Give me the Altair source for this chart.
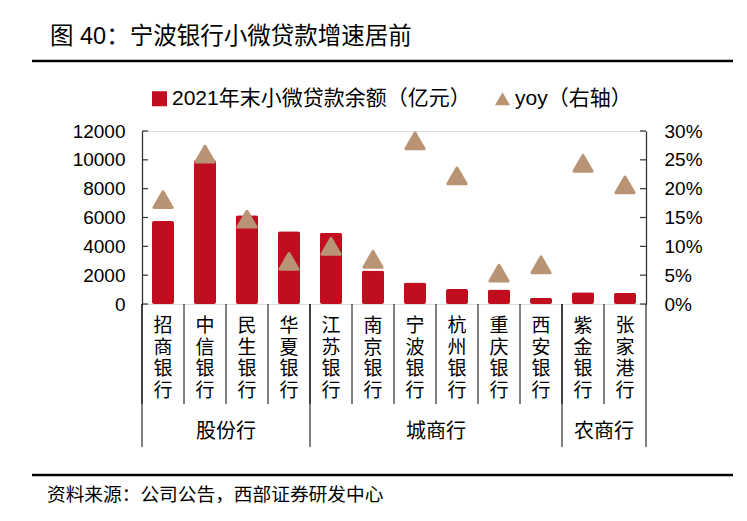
import altair as alt
import pandas as pd

# ---- data ----
banks = ["招商银行", "中信银行", "民生银行", "华夏银行", "江苏银行", "南京银行",
         "宁波银行", "杭州银行", "重庆银行", "西安银行", "紫金银行", "张家港行"]
loans = [5750, 9980, 6160, 5050, 4940, 2320, 1500, 1040, 1000, 420, 810, 770]
yoy = [0.181, 0.260, 0.147, 0.074, 0.100, 0.0775, 0.283, 0.222, 0.0535, 0.068, 0.244, 0.2065]
left_ticks = [0, 2000, 4000, 6000, 8000, 10000, 12000]
right_ticks = [0, 0.05, 0.10, 0.15, 0.20, 0.25, 0.30]
group_names = ["股份行", "城商行", "农商行"]
group_first = ["招商银行", "江苏银行", "紫金银行"]
group_center_at = ["民生银行", "杭州银行", "张家港行"]  # band start at group centre
last_bank = ["张家港行"]
series_names = ["2021年末小微贷款余额（亿元）", "yoy（右轴）"]
series_colors = ["#C00E1E", "#B89474"]
series_shapes = ["square", "triangle-up"]
title_text = ["图 40：宁波银行小微贷款增速居前"]
source_text = ["资料来源：公司公告，西部证券研发中心"]

CJK = "Noto Sans CJK SC"
MIX = "'Liberation Sans', 'Noto Sans CJK SC'"
W, H = 504, 173
AX = "#333333"

df = pd.DataFrame({"bank": banks, "loan": loans, "yoy": yoy})
df["s_bar"] = series_names[0]
df["s_pt"] = series_names[1]
df["vlabel"] = ["\n".join(list(b)) for b in banks]

xscale = alt.Scale(domain=banks, paddingInner=0, paddingOuter=0)
cscale = alt.Scale(domain=series_names, range=series_colors)
sscale = alt.Scale(domain=series_names, range=series_shapes)

legend = alt.Legend(title=None, orient="none", legendX=7, legendY=-43, direction="horizontal",
                    columns=2, columnPadding=21, labelOffset=2, symbolSize=225,
                    labelFont=MIX, labelFontSize=21, labelColor="#000", labelLimit=500,
                    symbolStrokeWidth=0)

bars = alt.Chart(df).mark_bar(size=22, cornerRadius=2).encode(
    x=alt.X("bank:N", sort=banks, scale=xscale,
            axis=alt.Axis(title=None, labels=False, ticks=False, domainColor=AX, domainWidth=1.3)),
    y=alt.Y("loan:Q", scale=alt.Scale(domain=[0, 12000], nice=False),
            axis=alt.Axis(title=None, values=left_ticks, format="d", ticks=False, grid=False,
                          domainColor=AX, domainWidth=1.3, labelPadding=17,
                          labelFont="Liberation Sans", labelFontSize=19, labelColor="#000")),
    color=alt.Color("s_bar:N", scale=cscale, legend=legend),
)

points = alt.Chart(df).mark_point(filled=True, opacity=1, size=330, strokeWidth=3,
                                  strokeJoin="round").encode(
    x=alt.X("bank:N", sort=banks, scale=xscale, axis=None),
    y=alt.Y("yoy:Q", scale=alt.Scale(domain=[0, 0.3], nice=False),
            axis=alt.Axis(title=None, orient="right", values=right_ticks, format=".0%",
                          ticks=False, grid=False, domainColor=AX, domainWidth=1.3,
                          labelPadding=18, labelFont="Liberation Sans", labelFontSize=19,
                          labelColor="#000")),
    color=alt.Color("s_pt:N", scale=cscale, legend=legend),
    stroke=alt.Color("s_pt:N", scale=cscale, legend=None),
    shape=alt.Shape("s_pt:N", scale=sscale, legend=legend),
)

xlabels = alt.Chart(df).mark_text(font=CJK, fontSize=19, color="#000", baseline="top",
                                  align="center", lineBreak="\n", lineHeight=21.7).encode(
    x=alt.X("bank:N", sort=banks, scale=xscale, axis=None),
    y=alt.value(H + 13), text="vlabel:N")

lt = alt.Chart(pd.DataFrame({"v": left_ticks})).mark_rule(color=AX, strokeWidth=1.2).encode(
    y=alt.Y("v:Q", scale=alt.Scale(domain=[0, 12000], nice=False), axis=None),
    x=alt.value(0), x2=alt.value(6))
rt = alt.Chart(pd.DataFrame({"v": right_ticks})).mark_rule(color=AX, strokeWidth=1.2).encode(
    y=alt.Y("v:Q", scale=alt.Scale(domain=[0, 0.3], nice=False), axis=None),
    x=alt.value(W - 6), x2=alt.value(W))

seps = alt.Chart(pd.DataFrame({"bank": banks})).mark_rule(color="#000", strokeWidth=1).encode(
    x=alt.X("bank:N", sort=banks, scale=xscale, bandPosition=0, axis=None),
    y=alt.value(H), y2=alt.value(H + 100))
gseps = alt.Chart(pd.DataFrame({"bank": group_first})).mark_rule(color="#000", strokeWidth=1).encode(
    x=alt.X("bank:N", sort=banks, scale=xscale, bandPosition=0, axis=None),
    y=alt.value(H), y2=alt.value(H + 143))
gend = alt.Chart(pd.DataFrame({"bank": last_bank})).mark_rule(color="#000", strokeWidth=1).encode(
    x=alt.X("bank:N", sort=banks, scale=xscale, bandPosition=1, axis=None),
    y=alt.value(H), y2=alt.value(H + 143))
glabels = alt.Chart(pd.DataFrame({"bank": group_center_at, "g": group_names})).mark_text(
    font=CJK, fontSize=20, color="#000", baseline="middle", align="center").encode(
    x=alt.X("bank:N", sort=banks, scale=xscale, bandPosition=0, axis=None),
    y=alt.value(H + 128), text="g:N")

title = alt.Chart(pd.DataFrame({"t": title_text})).mark_text(
    font=MIX, fontSize=23.5, color="#000", align="left", baseline="middle").encode(
    x=alt.value(-92), y=alt.value(-94), text="t:N")
source = alt.Chart(pd.DataFrame({"t": source_text})).mark_text(
    font=CJK, fontSize=18.7, color="#000", align="left", baseline="middle").encode(
    x=alt.value(-95), y=alt.value(364), text="t:N")
line_top = alt.Chart(pd.DataFrame({"t": [0]})).mark_rule(color="#000", strokeWidth=2.5).encode(
    x=alt.value(-110), x2=alt.value(591), y=alt.value(-70))
line_bot = alt.Chart(pd.DataFrame({"t": [0]})).mark_rule(color="#000", strokeWidth=2.5).encode(
    x=alt.value(-110), x2=alt.value(591), y=alt.value(344))

chart = alt.layer(
    bars, points, xlabels, lt, rt, seps, gseps, gend, glabels, title, source, line_top, line_bot
).resolve_scale(y="independent").properties(
    width=W, height=H,
    autosize=alt.AutoSizeParams(type="none"),
    padding={"left": 134, "top": 123, "right": 93, "bottom": 209},
).configure_view(stroke=None).configure(background="white")

chart.save("out.html", embed_options={"renderer": "svg", "actions": False})
